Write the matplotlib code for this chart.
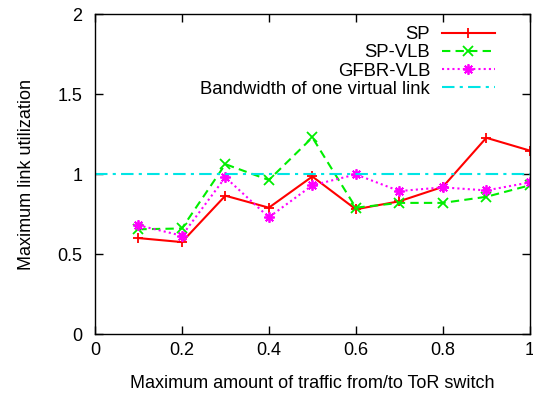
import matplotlib
matplotlib.use("Agg")
import matplotlib.pyplot as plt

plt.rcParams['font.family'] = ['Liberation Sans', 'DejaVu Sans']

# data
x = [0.1, 0.2, 0.3, 0.4, 0.5, 0.6, 0.7, 0.8, 0.9, 1.0]
sp = [0.60, 0.575, 0.865, 0.79, 0.985, 0.78, 0.83, 0.92, 1.227, 1.147]
sp_vlb = [0.655, 0.66, 1.062, 0.963, 1.229, 0.79, 0.82, 0.82, 0.858, 0.93]
gfbr_vlb = [0.68, 0.615, 0.98, 0.73, 0.93, 0.998, 0.894, 0.917, 0.898, 0.948]
bandwidth = 1.0

xticks = [0, 0.2, 0.4, 0.6, 0.8, 1]
xticklabels = ["0", "0.2", "0.4", "0.6", "0.8", "1"]
yticks = [0, 0.5, 1, 1.5, 2]
yticklabels = ["0", "0.5", "1", "1.5", "2"]

fig = plt.figure(figsize=(5.33, 3.93), dpi=100)
ax = fig.add_axes([0.178, 0.150, 0.816, 0.814])

ax.plot(x, sp, color='#ff0000', lw=1.5, marker='+', ms=7, mew=1.3, label='SP')
ax.plot(x, sp_vlb, color='#00ee00', lw=1.5, ls=(0, (4, 2.5)), marker='x', ms=6.5, mew=1.3,
        label='SP-VLB')
ax.plot(x, gfbr_vlb, color='#ff00ff', lw=1.5, ls=(0, (1, 1.5)), marker=(8, 2, 0), ms=7.5,
        mew=1.3, label='GFBR-VLB')
ax.axhline(bandwidth, color='#00e5e5', lw=1.5, ls=(0, (6, 2.5, 1.5, 2.5)),
           label='Bandwidth of one virtual link')

ax.set_xlim(0, 1)
ax.set_ylim(0, 2)
ax.set_xticks(xticks)
ax.set_xticklabels(xticklabels)
ax.set_yticks(yticks)
ax.set_yticklabels(yticklabels)
ax.tick_params(direction='in', length=6, width=1, top=True, right=True, labelsize=13)
ax.tick_params(axis='x', pad=6)
ax.tick_params(axis='y', pad=9)
for s in ax.spines.values():
    s.set_linewidth(1)

ax.set_xlabel("Maximum amount of traffic from/to ToR switch", fontsize=13, labelpad=11)
ax.set_ylabel("Maximum link utilization", fontsize=13, labelpad=16)

leg = ax.legend(loc='upper right', bbox_to_anchor=(0.9195, 0.962), frameon=False,
                markerfirst=False, fontsize=13.3, handlelength=2.85, handletextpad=0.65,
                labelspacing=0.06, borderpad=0, borderaxespad=0)
for col in leg._legend_handle_box.get_children():
    col.align = 'right'

fig.savefig("out.png", dpi=100)
